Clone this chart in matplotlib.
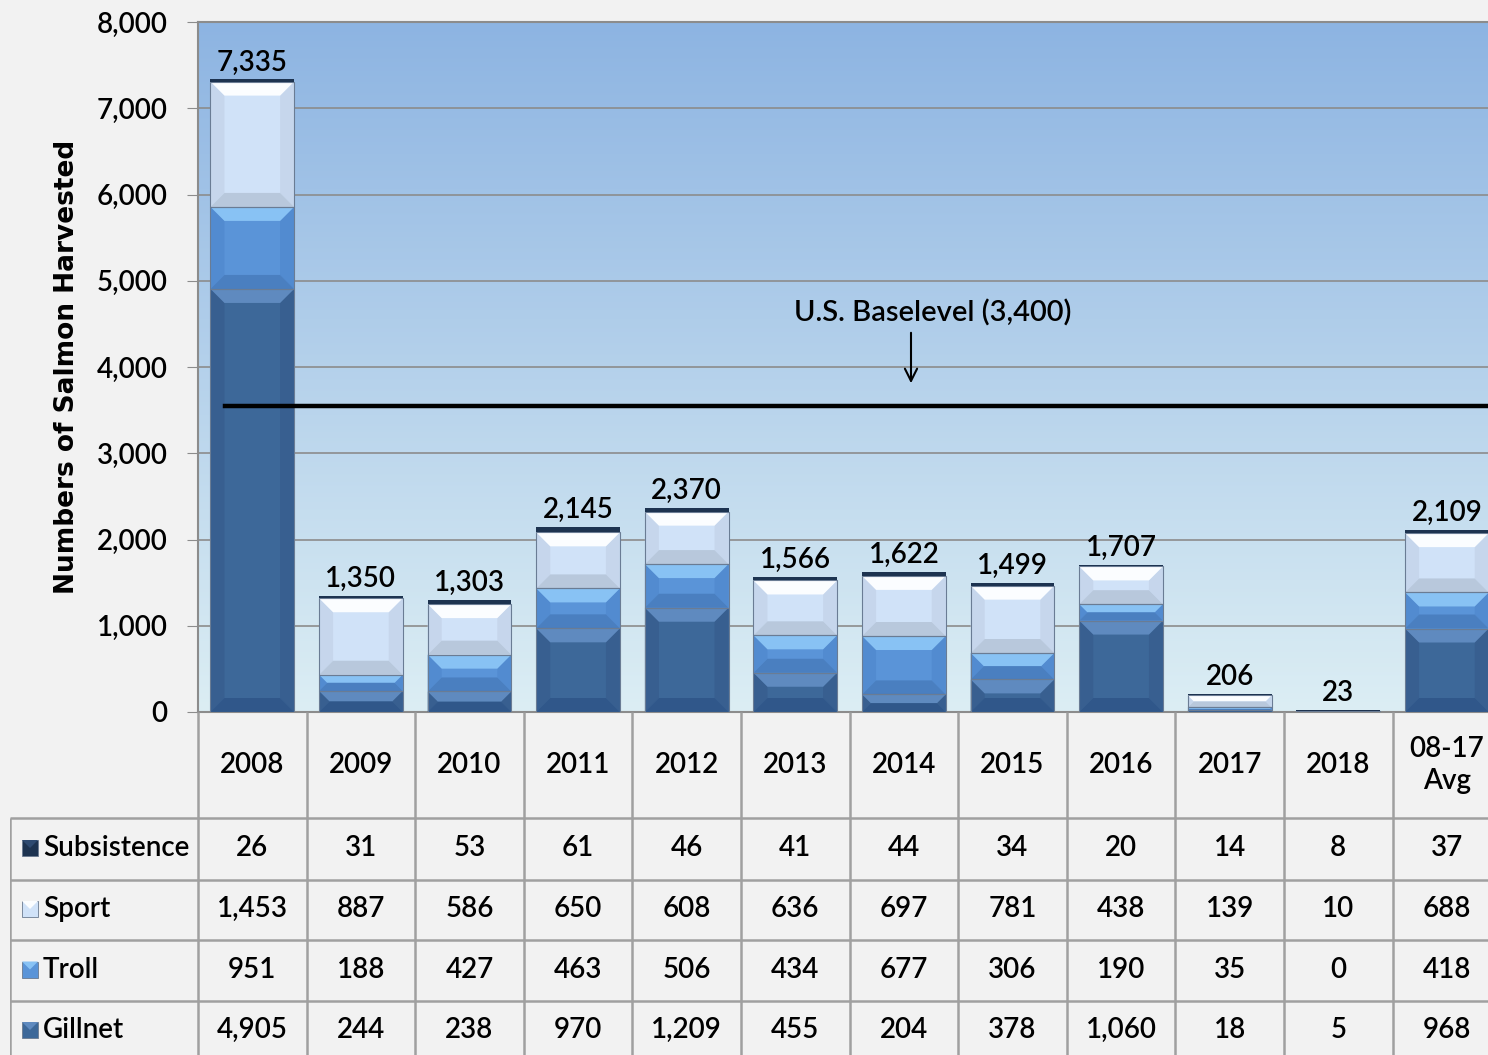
import numpy as np
import matplotlib
matplotlib.use("Agg")
import matplotlib.pyplot as plt
from matplotlib.patches import Rectangle, Polygon
from matplotlib.ticker import FuncFormatter

plt.rcParams['font.family'] = ['Lato', 'DejaVu Sans']
plt.rcParams['font.weight'] = 'semibold'

# ---- data ----
columns = ["2008", "2009", "2010", "2011", "2012", "2013", "2014", "2015",
           "2016", "2017", "2018", "08-17\nAvg"]
subsistence = [26, 31, 53, 61, 46, 41, 44, 34, 20, 14, 8, 37]
sport = [1453, 887, 586, 650, 608, 636, 697, 781, 438, 139, 10, 688]
troll = [951, 188, 427, 463, 506, 434, 677, 306, 190, 35, 0, 418]
gillnet = [4905, 244, 238, 970, 1209, 455, 204, 378, 1060, 18, 5, 968]
totals = [7335, 1350, 1303, 2145, 2370, 1566, 1622, 1499, 1707, 206, 23, 2109]
row_names = ["Subsistence", "Sport", "Troll", "Gillnet"]
baselevel_label = "U.S. Baselevel (3,400)"
baselevel_drawn = 3550   # where the line sits in the picture

# colours: base, top light, bottom dark, sides
styles = {
    "Gillnet": ("#3d6899", "#5f8abf", "#30578a", "#385f90"),
    "Troll": ("#5a94d8", "#88c2f4", "#4a7fc0", "#528bd0"),
    "Sport": ("#d0e2f8", "#fbfdff", "#b8c8dc", "#c6d6ec"),
    "Subsistence": ("#1d3350", "#2e4a70", "#14253b", "#1d3350"),
}

W, H = 1488, 1055
fig = plt.figure(figsize=(W / 100, H / 100), dpi=100, facecolor="#f2f2f2")

ax_left, ax_top, ax_bot = 198, 22, 712
col_w = 108.6
ncol = len(columns)
ax = fig.add_axes([ax_left / W, (H - ax_bot) / H, ncol * col_w / W, (ax_bot - ax_top) / H])
ax.set_xlim(-0.5, ncol - 0.5)
ax.set_ylim(0, 8000)

# gradient background
grad = np.linspace(0, 1, 256).reshape(-1, 1)
top_c = np.array([141, 180, 226]) / 255
bot_c = np.array([220, 238, 244]) / 255
img = top_c * (1 - grad[..., None]) + bot_c * grad[..., None]
img = img.reshape(256, 1, 3)
ax.imshow(img, extent=(-0.5, ncol - 0.5, 0, 8000), aspect="auto", zorder=0, origin="upper")

ax.yaxis.grid(True, color="#8c8c8c", lw=1.2, zorder=1)
ax.set_axisbelow(True)
ax.set_yticks(range(0, 8001, 1000))
ax.yaxis.set_major_formatter(FuncFormatter(lambda v, p: f"{int(v):,}"))
ax.tick_params(axis="y", length=8, color="#8c8c8c", labelsize=20, pad=14)
ax.set_xticks([])
for s in ["left", "top", "bottom"]:
    ax.spines[s].set_color("#8c8c8c")
    ax.spines[s].set_linewidth(1.5)
ax.spines["right"].set_visible(False)
ax.set_ylabel("Numbers of Salmon Harvested", fontsize=19, fontweight="bold",
              family=["DejaVu Sans"], labelpad=12)

bar_w = 0.77
px_per_y = (ax_bot - ax_top) / 8000.0
bev_px = 14


def bevel_segment(x, y0, h, name):
    if h <= 0:
        return
    base, light, dark, side = styles[name]
    xl, xr = x - bar_w / 2, x + bar_w / 2
    ax.add_patch(Rectangle((xl, y0), bar_w, h, fc=base, ec="none", zorder=3))
    by = min(bev_px / px_per_y, h / 2)
    bx = by * px_per_y / col_w
    yt = y0 + h
    ax.add_patch(Polygon([(xl, y0), (xl + bx, y0 + by), (xl + bx, yt - by), (xl, yt)],
                         fc=side, ec="none", zorder=3))
    ax.add_patch(Polygon([(xr, y0), (xr - bx, y0 + by), (xr - bx, yt - by), (xr, yt)],
                         fc=side, ec="none", zorder=3))
    ax.add_patch(Polygon([(xl, yt), (xr, yt), (xr - bx, yt - by), (xl + bx, yt - by)],
                         fc=light, ec="none", zorder=3))
    ax.add_patch(Polygon([(xl, y0), (xr, y0), (xr - bx, y0 + by), (xl + bx, y0 + by)],
                         fc=dark, ec="none", zorder=3))
    ax.add_patch(Rectangle((xl, y0), bar_w, h, fc="none", ec="#6a7c94", lw=0.8, zorder=4))


for i in range(ncol):
    bottom = 0
    for name, vals in [("Gillnet", gillnet), ("Troll", troll), ("Sport", sport)]:
        bevel_segment(i, bottom, vals[i], name)
        bottom += vals[i]
    ax.add_patch(Rectangle((i - bar_w / 2, bottom), bar_w, subsistence[i],
                           fc=styles["Subsistence"][0], ec="none", zorder=4))
    ax.text(i, bottom + subsistence[i] + 45, f"{totals[i]:,}", ha="center", va="bottom",
            fontsize=20, zorder=5)

# baselevel line and note
ax.axhline(baselevel_drawn, xmin=(225 - ax_left) / (ncol * col_w), xmax=1, color="black",
           lw=3.2, zorder=5)


def px2col(px):
    return (px - ax_left) / col_w - 0.5


def py2val(py):
    return (ax_bot - py) / px_per_y


ax.text(px2col(933), py2val(313), baselevel_label, ha="center", va="center", fontsize=21, zorder=6)
ax.annotate("", xy=(px2col(911), py2val(386)), xytext=(px2col(911), py2val(330)),
            arrowprops=dict(arrowstyle="->", lw=1.5, color="black", mutation_scale=22), zorder=6)

# ---- data table ----
tx0 = 10
tax = fig.add_axes([tx0 / W, 0, (ax_left + ncol * col_w - tx0) / W, (H - ax_bot) / H])
tax.set_xlim(px2col(tx0), ncol - 0.5)
tax.set_ylim(H, ax_bot)
tax.axis("off")
line_kw = dict(color="#a0a0a0", lw=1.8, solid_capstyle="butt")

row_edges = [ax_bot, 818, 880, 940, 1001, 1062]
for ry in row_edges[1:5]:
    tax.plot([px2col(tx0), ncol - 0.5], [ry, ry], **line_kw)
for k in range(ncol + 1):
    tax.plot([k - 0.5, k - 0.5], [ax_bot, H], **line_kw)
tax.plot([px2col(tx0), px2col(tx0)], [818, H], **line_kw)

for i, lab in enumerate(columns):
    tax.text(i, 765, lab, ha="center", va="center", fontsize=20, linespacing=1.3)

table_rows = [subsistence, sport, troll, gillnet]
for r, (name, vals) in enumerate(zip(row_names, table_rows)):
    yc = (row_edges[r + 1] + row_edges[r + 2]) / 2 - 1
    if r == 3:
        yc = 1030
    base, light, dark, side = styles[name]
    ks = 16
    kx0, kx1 = px2col(22), px2col(22 + ks)
    tax.add_patch(Rectangle((kx0, yc + ks / 2), kx1 - kx0, -ks, fc=base, ec="#6a7a90", lw=0.6))
    tax.add_patch(Polygon([(kx0, yc - ks / 2), (kx1, yc - ks / 2),
                           ((kx0 + kx1) / 2, yc)], fc=light, ec="none"))
    tax.text(px2col(43), yc, name, ha="left", va="center", fontsize=20)
    for i, v in enumerate(vals):
        tax.text(i, yc, f"{v:,}", ha="center", va="center", fontsize=20)

fig.savefig("out.png", dpi=100, facecolor=fig.get_facecolor())
